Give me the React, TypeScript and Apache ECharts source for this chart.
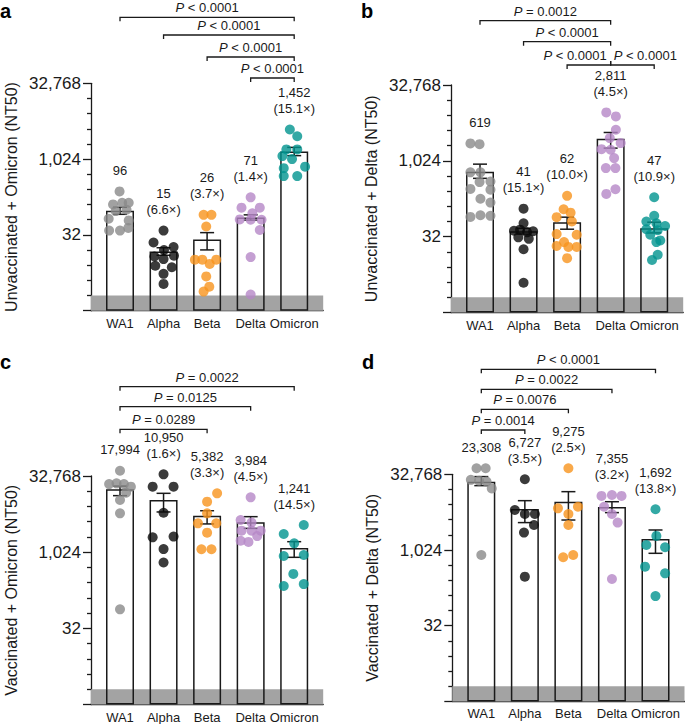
import React, { useEffect, useRef } from "react";
import * as echarts from "echarts";

// ---------- shared ----------
const categories = ["WA1", "Alpha", "Beta", "Delta", "Omicron"];
const dotColors = ["#8a8a8a", "#0a0a0a", "#f7941d", "#b587c7", "#00948f"];

// ---------- panel a: Unvaccinated + Omicron ----------
const aGmt = [96, 15, 26, 71, 1452];
const aFold = [null, 6.6, 3.7, 1.4, 15.1];
const aErrLow = [82, 12.6, 16.1, 63, 1200];
const aErrHigh = [113, 17.8, 35.5, 80, 1750];
const aDots = [
  [234, 129, 139, 139, 95, 101, 67, 62, 39, 39, 44],
  [39, 22.6, 18.4, 16, 11.9, 12.4, 10.6, 7.8, 7.3, 5.4, 3.4],
  [80, 80, 47, 10.3, 10.3, 10.3, 8.5, 4.8, 3.0, 2.4],
  [178, 111, 111, 86, 65, 64, 64, 40, 11.6, 2.1],
  [3956, 2916, 1596, 1596, 1176, 1024, 724, 676, 471, 471],
];
const aJitter = [
  [-0.01, -0.16, 0.05, 0.2, -0.1, 0.15, -0.26, 0.2, -0.25, 0.0, 0.19],
  [0, -0.23, 0.23, 0.01, -0.21, 0.24, 0, -0.19, 0.19, 0, 0],
  [-0.08, 0.1, -0.02, -0.28, -0.11, 0.21, 0.06, -0.02, 0.05, -0.08],
  [0, -0.21, 0.21, 0.04, -0.25, 0, 0.25, 0.21, 0, 0],
  [-0.1, 0.07, -0.18, 0.07, -0.27, -0.05, 0.25, -0.24, -0.24, 0.07],
];
const aBrackets = [
  { from: 0, to: 4, p: "P < 0.0001" },
  { from: 1, to: 4, p: "P < 0.0001" },
  { from: 2, to: 4, p: "P < 0.0001" },
  { from: 3, to: 4, p: "P < 0.0001" },
];

// ---------- panel b: Unvaccinated + Delta ----------
const bGmt = [619, 41, 62, 2811, 47];
const bFold = [null, 15.1, 10.0, 4.5, 10.9];
const bErrLow = [460, 36, 45, 1830, 38];
const bErrHigh = [880, 47, 78, 3740, 62];
const bDots = [
  [2273, 2195, 605, 605, 396, 388, 284, 274, 181, 152, 79, 85, 83],
  [115, 59, 42, 41, 39, 31, 29, 18, 3.9, 44],
  [207, 112, 96, 78, 64, 36, 35, 25, 21, 20, 20, 12],
  [9345, 7802, 4240, 2896, 2304, 1746, 1699, 1160, 734, 734, 280, 226],
  [194, 83, 64, 59, 52, 45, 43, 35, 27, 25, 14, 11],
];
const bJitter = [
  [-0.22, -0.01, -0.22, 0.01, 0.24, -0.01, -0.22, 0.24, 0.01, 0.24, -0.22, 0.01, 0.24],
  [0, 0, -0.22, 0.22, 0.08, -0.12, 0.12, 0, 0, -0.08],
  [0, -0.08, 0.08, -0.24, 0.11, -0.24, 0.22, -0.07, -0.24, 0.03, 0.22, 0],
  [-0.1, 0.12, 0.12, -0.02, 0.23, -0.21, 0, 0.08, -0.11, 0.11, 0.11, -0.1],
  [0, 0, -0.18, 0.05, 0.25, -0.18, 0.08, -0.09, 0.14, 0.05, 0.08, -0.05],
];
const bBrackets = [
  { from: 0, to: 3, p: "P = 0.0012" },
  { from: 1, to: 3, p: "P < 0.0001" },
  { from: 2, to: 3, p: "P < 0.0001", side: "end" },
  { from: 3, to: 4, p: "P < 0.0001", side: "start" },
];

// ---------- panel c: Vaccinated + Omicron ----------
const cGmt = [17994, 10950, 5382, 3984, 1241];
const cFold = [null, 1.6, 3.3, 4.5, 14.5];
const cErrLow = [13400, 6380, 3700, 3020, 810];
const cErrHigh = [20700, 14900, 6750, 5150, 1650];
const cDots = [
  [41600, 22700, 23500, 22700, 20200, 15300, 11000, 6000, 76],
  [35400, 20200, 20200, 6160, 2010, 2080, 1180, 640],
  [14900, 10200, 6000, 3800, 3800, 2490, 1170, 1170],
  [12400, 4420, 3930, 2720, 2720, 2720, 2130, 1720, 1630],
  [3520, 2340, 1530, 860, 900, 380, 220, 240],
];
const cJitter = [
  [0, -0.25, -0.08, 0.09, 0.25, 0.14, 0, 0, 0],
  [0, -0.25, 0.23, 0, -0.25, 0.23, 0, 0],
  [0.23, 0, 0, -0.21, 0.21, 0, -0.13, 0.1],
  [0, -0.23, 0.02, 0.23, -0.21, 0.02, 0.15, -0.23, -0.05],
  [0.22, -0.24, 0, -0.24, 0.22, -0.02, -0.24, 0.22],
];
const cBrackets = [
  { from: 0, to: 4, p: "P = 0.0022" },
  { from: 0, to: 3, p: "P = 0.0125" },
  { from: 0, to: 2, p: "P = 0.0289" },
];

// ---------- panel d: Vaccinated + Delta ----------
const dGmt = [23308, 6727, 9275, 7355, 1692];
const dFold = [null, 3.5, 2.5, 3.2, 13.8];
const dErrLow = [19500, 3590, 4040, 5670, 880];
const dErrHigh = [29500, 9800, 14800, 9340, 2560];
const dDots = [
  [43200, 43200, 25400, 24500, 23500, 17200, 815],
  [26100, 6380, 5330, 5330, 3210, 2270, 302],
  [43200, 6890, 7430, 5330, 3210, 815, 734],
  [12200, 12700, 12200, 7430, 5330, 3590, 271],
  [6610, 1950, 1290, 1160, 478, 352, 124],
];
const dJitter = [
  [-0.11, 0.1, -0.24, -0.05, 0.12, 0.24, 0],
  [0, -0.23, 0, 0.23, 0.21, -0.02, 0],
  [0, -0.24, 0.22, 0, 0, 0.11, -0.12],
  [-0.24, 0, 0.22, -0.18, 0, 0.13, 0],
  [0, 0.02, -0.21, 0.22, -0.24, 0.22, 0],
];
const dBrackets = [
  { from: 0, to: 4, p: "P < 0.0001" },
  { from: 0, to: 3, p: "P = 0.0022" },
  { from: 0, to: 2, p: "P = 0.0076" },
  { from: 0, to: 1, p: "P = 0.0014" },
];

// ---------- layout ----------
const FONT = "'Liberation Sans', Arial, Helvetica, sans-serif";
const INK = "#1a1a1a";
const X_MIN = -0.666;
const X_MAX = 4.666;
const Y_MIN = 0; // log2(1)
const Y_MAX = 15; // log2(32768)
const LOD = 1; // log2(2): grey band

const panels = [
  {
    letter: "a", name: "Unvaccinated + Omicron (NT50)",
    gmt: aGmt, fold: aFold, lo: aErrLow, hi: aErrHigh, dots: aDots, jit: aJitter, brackets: aBrackets,
    grid: { left: 91, top: 83.3, width: 232.2, height: 227.4 },
    rows: [66, 48.3, 26.3, 5.3], letterPos: [0, 16],
  },
  {
    letter: "b", name: "Unvaccinated + Delta (NT50)",
    gmt: bGmt, fold: bFold, lo: bErrLow, hi: bErrHigh, dots: bDots, jit: bJitter, brackets: bBrackets,
    grid: { left: 451, top: 85, width: 232.2, height: 227.5 },
    rows: [64.3, 43.3, 20, 20], letterPos: [361, 16],
  },
  {
    letter: "c", name: "Vaccinated + Omicron (NT50)",
    gmt: cGmt, fold: cFold, lo: cErrLow, hi: cErrHigh, dots: cDots, jit: cJitter, brackets: cBrackets,
    grid: { left: 91, top: 476, width: 232.2, height: 228.5 },
    rows: [89.3, 69.3, 46.7], letterPos: [0, 367],
  },
  {
    letter: "d", name: "Vaccinated + Delta (NT50)",
    gmt: dGmt, fold: dFold, lo: dErrLow, hi: dErrHigh, dots: dDots, jit: dJitter, brackets: dBrackets,
    grid: { left: 452.3, top: 474.3, width: 232.2, height: 227.1 },
    rows: [105, 85, 65, 44.3], letterPos: [362, 367],
  },
];

const fmt = (n: number) => Math.round(n).toLocaleString("en-US");

function buildOption() {
  const grid: any[] = [];
  const xAxis: any[] = [];
  const yAxis: any[] = [];
  const series: any[] = [];
  const graphic: any[] = [];

  panels.forEach((p, gi) => {
    grid.push({ ...p.grid, containLabel: false });
    xAxis.push({
      gridIndex: gi, type: "value", min: X_MIN, max: X_MAX,
      axisLine: { show: true, onZero: false, lineStyle: { color: INK, width: 1.3 } },
      axisTick: { show: false },
      splitLine: { show: false },
      axisLabel: {
        customValues: [0, 1, 2, 3, 4],
        formatter: (v: number) => categories[Math.round(v)] ?? "",
        fontSize: 13, fontFamily: FONT, color: INK, margin: 6,
      },
    });
    yAxis.push({
      gridIndex: gi, type: "value", min: Y_MIN, max: Y_MAX, interval: 5,
      name: p.name, nameLocation: "middle", nameGap: 72,
      nameTextStyle: { fontSize: 16, fontFamily: FONT, color: INK },
      axisLine: { show: true, onZero: false, lineStyle: { color: INK, width: 1.3 } },
      axisTick: { show: true, length: 8, lineStyle: { color: INK, width: 1.3 } },
      minorTick: { show: true, splitNumber: 5, length: 4, lineStyle: { color: INK, width: 1.3 } },
      splitLine: { show: false },
      minorSplitLine: { show: false },
      axisLabel: {
        formatter: (v: number) => (v === 0 ? "" : fmt(Math.pow(2, v))),
        fontSize: 17, fontFamily: FONT, color: INK, margin: 10,
      },
    });

    // bars (geometric mean) + grey band below detection limit
    series.push({
      type: "bar", xAxisIndex: gi, yAxisIndex: gi, z: 2,
      barWidth: 28, silent: true,
      data: p.gmt.map((g, i) => [i, Math.log2(g)]),
      itemStyle: { color: "rgba(255,255,255,0)", borderColor: INK, borderWidth: 1.5 },
      markArea: {
        silent: true,
        itemStyle: { color: "#a3a3a3" },
        data: [[{ xAxis: X_MIN, yAxis: Y_MIN }, { xAxis: X_MAX, yAxis: LOD }]],
      },
    });

    // error bars
    series.push({
      type: "custom", xAxisIndex: gi, yAxisIndex: gi, z: 3, silent: true,
      data: p.gmt.map((_, i) => [i, Math.log2(p.lo[i]), Math.log2(p.hi[i])]),
      encode: { x: 0, y: [1, 2] },
      renderItem: (params: any, api: any) => {
        const lo = api.coord([api.value(0), api.value(1)]);
        const hi = api.coord([api.value(0), api.value(2)]);
        const w = 7;
        const st = { stroke: INK, lineWidth: 1.5 };
        return {
          type: "group",
          children: [
            { type: "line", shape: { x1: lo[0], y1: lo[1], x2: hi[0], y2: hi[1] }, style: st },
            { type: "line", shape: { x1: lo[0] - w, y1: lo[1], x2: lo[0] + w, y2: lo[1] }, style: st },
            { type: "line", shape: { x1: hi[0] - w, y1: hi[1], x2: hi[0] + w, y2: hi[1] }, style: st },
          ],
        };
      },
    });

    // individual dots
    const pts: any[] = [];
    p.dots.forEach((arr, ci) => {
      arr.forEach((v, k) => {
        pts.push({ value: [ci + p.jit[ci][k], Math.log2(v)], itemStyle: { color: dotColors[ci] } });
      });
    });
    series.push({
      type: "scatter", xAxisIndex: gi, yAxisIndex: gi, z: 4, silent: true, clip: false,
      symbolSize: 10, data: pts,
    });

    // value labels above each group (drawn with the text element so colour is exact)
    series.push({
      type: "custom", xAxisIndex: gi, yAxisIndex: gi, z: 5, silent: true, clip: false,
      data: p.dots.map((arr, i) => [i, Math.log2(Math.max(...arr))]),
      encode: { x: 0, y: 1 },
      renderItem: (params: any, api: any) => {
        const i = params.dataIndex;
        const pt = api.coord([api.value(0), api.value(1)]);
        const f = p.fold[i];
        const txt = fmt(p.gmt[i]) + (f != null ? "\n(" + f.toFixed(1) + "×)" : "");
        return {
          type: "text", x: pt[0], y: pt[1] - 13,
          style: {
            text: txt, fontSize: 13, lineHeight: 16, fontFamily: FONT, fill: INK,
            align: "center", verticalAlign: "bottom",
          },
        };
      },
    });

    // significance brackets
    series.push({
      type: "custom", xAxisIndex: gi, yAxisIndex: gi, z: 6, silent: true, clip: false,
      data: p.brackets.map((b) => [b.from, b.to]),
      encode: { x: [0, 1] },
      renderItem: (params: any, api: any) => {
        const b: any = p.brackets[params.dataIndex];
        const x1 = api.coord([b.from, 0])[0];
        const x2 = api.coord([b.to, 0])[0];
        const y = params.coordSys.y - p.rows[params.dataIndex];
        const t = 4;
        const yFrom = b.side === "start" ? y - t : y + t;
        const yTo = b.side === "end" ? y - t : y + t;
        let tx = (x1 + x2) / 2;
        let align = "center";
        if (b.side === "end") { tx = x2 - 4; align = "right"; }
        if (b.side === "start") { tx = x1 + 3; align = "left"; }
        return {
          type: "group",
          children: [
            {
              type: "polyline",
              shape: { points: [[x1, yFrom], [x1, y], [x2, y], [x2, yTo]] },
              style: { stroke: INK, lineWidth: 1.3, fill: null },
            },
            {
              type: "text", x: tx, y: y - 9.5,
              style: {
                text: b.p.replace(/^P/, "{i|P}"),
                rich: { i: { fontStyle: "italic", fontSize: 13, fontFamily: FONT, fill: INK } },
                fontSize: 13, fontFamily: FONT, fill: INK,
                align, verticalAlign: "middle",
              },
            },
          ],
        };
      },
    });

    graphic.push({
      type: "text", left: p.letterPos[0], top: p.letterPos[1] - 15,
      style: { text: p.letter, fontSize: 20, fontWeight: "bold", fontFamily: FONT, fill: "#000" },
    });
  });

  return { animation: false, backgroundColor: "#ffffff", grid, xAxis, yAxis, series, graphic };
}

export default function App() {
  const ref = useRef<HTMLDivElement>(null);
  useEffect(() => {
    document.body.style.margin = "0";
    if (!ref.current) return;
    const chart = echarts.init(ref.current, undefined, { renderer: "svg" });
    chart.setOption(buildOption() as any);
    return () => chart.dispose();
  }, []);
  return <div ref={ref} style={{ width: 685, height: 724 }} />;
}
